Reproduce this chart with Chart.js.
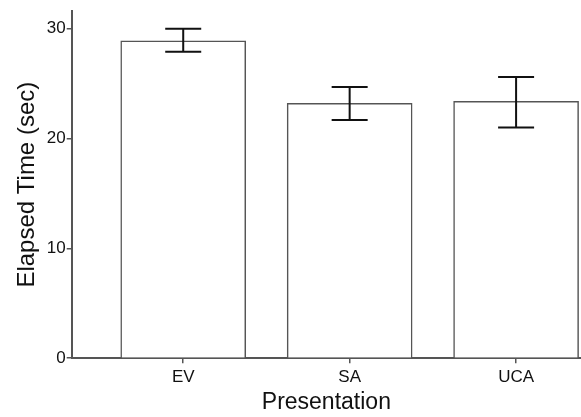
<!DOCTYPE html>
<html>
<head>
<meta charset="utf-8">
<script src="https://cdn.jsdelivr.net/npm/chart.js@4.4.1/dist/chart.umd.min.js"></script>
<style>
  html, body { margin: 0; padding: 0; background: #fff; overflow: hidden; }
  #wrap { width: 581px; height: 417px; }
</style>
</head>
<body>
<div id="wrap"><canvas id="chart"></canvas></div>
<script>
// --- DATA ---
const categories = ['EV', 'SA', 'UCA'];
const meanTimes = [28.9, 23.2, 23.4];
const errLow = [27.9, 21.7, 21.0];
const errHigh = [30.0, 24.7, 25.6];
const yTicks = [0, 10, 20, 30];

const FONT = '"Liberation Sans", Arial, sans-serif';
const AXIS_COLOR = '#555';

// bar positions 1..n on a linear x scale, so the bins can sit off the y axis like the original
const points = categories.map((c, i) => ({ x: i + 1, y: meanTimes[i] }));

// --- ERROR BARS ---
const errorBars = {
    id: 'errorBars',
    afterDatasetsDraw(chart) {
        const { ctx, scales: { x, y } } = chart;
        ctx.save();
        ctx.strokeStyle = '#111';
        ctx.lineWidth = 2;
        categories.forEach((c, i) => {
            const px = x.getPixelForValue(i + 1);
            const top = y.getPixelForValue(errHigh[i]);
            const bot = y.getPixelForValue(errLow[i]);
            ctx.beginPath();
            ctx.moveTo(px, top); ctx.lineTo(px, bot);
            ctx.moveTo(px - 18, top); ctx.lineTo(px + 18, top);
            ctx.moveTo(px - 18, bot); ctx.lineTo(px + 18, bot);
            ctx.stroke();
        });
        ctx.restore();
    }
};

new Chart(document.getElementById('chart'), {
    type: 'bar',
    data: {
        datasets: [{
            data: points,
            backgroundColor: '#fff',
            borderColor: AXIS_COLOR,
            borderWidth: 1.5,
            barThickness: 125
        }]
    },
    options: {
        responsive: true,
        maintainAspectRatio: false,
        animation: false,
        layout: { padding: { left: 13, top: 8, right: 0, bottom: 2.5 } },
        plugins: { legend: { display: false }, tooltip: { enabled: false } },
        scales: {
            x: {
                type: 'linear',
                offset: false,
                z: 1,
                min: 0.33,
                max: 3.39,
                afterBuildTicks: axis => { axis.ticks = categories.map((c, i) => ({ value: i + 1 })); },
                ticks: {
                    callback: v => categories[v - 1],
                    color: '#111',
                    font: { family: FONT, size: 17, lineHeight: 0.9 },
                    padding: 6.5
                },
                grid: { offset: false, drawOnChartArea: false, drawTicks: true, tickLength: 5, color: AXIS_COLOR, lineWidth: 1.5 },
                border: { display: true, color: AXIS_COLOR, width: 2 },
                title: {
                    display: true,
                    text: 'Presentation',
                    color: '#111',
                    font: { family: FONT, size: 23, lineHeight: 1 },
                    padding: { top: 0, bottom: 0 }
                }
            },
            y: {
                min: 0,
                max: 31.6,
                z: 1,
                afterBuildTicks: axis => { axis.ticks = yTicks.map(v => ({ value: v })); },
                ticks: {
                    color: '#111',
                    font: { family: FONT, size: 17 },
                    padding: 1
                },
                grid: { drawOnChartArea: false, drawTicks: true, tickLength: 5, color: AXIS_COLOR, lineWidth: 1.5 },
                border: { display: true, color: AXIS_COLOR, width: 2 },
                title: {
                    display: true,
                    text: 'Elapsed Time (sec)',
                    color: '#111',
                    font: { family: FONT, size: 24 },
                    padding: { top: 0, bottom: 4 }
                }
            }
        }
    },
    plugins: [errorBars]
});
</script>
</body>
</html>
